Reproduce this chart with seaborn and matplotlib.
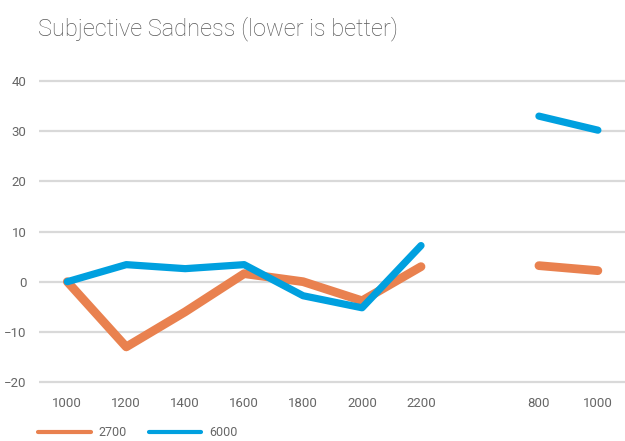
import numpy as np
import pandas as pd
import matplotlib
matplotlib.use('Agg')
import matplotlib.pyplot as plt
from matplotlib.lines import Line2D
import seaborn as sns

# values
categories = ['1000', '1200', '1400', '1600', '1800', '2000', '2200', '', '800', '1000']
s2700 = [0, -13, -6, 1.6, 0, -3.8, 3, np.nan, 3.2, 2.2]
s6000 = [0, 3.4, 2.6, 3.4, -2.8, -5.2, 7.2, np.nan, 33, 30.2]
series = {'2700': s2700, '6000': s6000}
colors = {'2700': '#E9814F', '6000': '#00A0DF'}
widths = {'2700': 6.3, '6000': 5.2}
yticks = [-20, -10, 0, 10, 20, 30, 40]

rows = []
for name, vals in series.items():
    seg = 0
    for i, v in enumerate(vals):
        if np.isnan(v):
            seg += 1
            continue
        rows.append({'pos': i, 'value': v, 'series': name, 'segment': seg})
df = pd.DataFrame(rows)

sns.set_style('white')
plt.rcParams['font.family'] = ['Roboto', 'DejaVu Sans']
grey = '#595959'

fig = plt.figure(figsize=(6.25, 4.41), dpi=100)
ax = fig.add_axes([0.0624, 0.128, 0.9376, 0.694])

for name in series:
    sns.lineplot(data=df[df['series'] == name], x='pos', y='value', units='segment',
                 estimator=None, color=colors[name], linewidth=widths[name],
                 solid_capstyle='round', solid_joinstyle='round', ax=ax, legend=False)

ax.set_xlim(-0.48, 9.46)
ax.set_ylim(-20.5, 40.5)
ax.set_xticks(range(len(categories)))
ax.set_xticklabels(categories)
ax.set_yticks(yticks)
ax.set_xlabel('')
ax.set_ylabel('')
ax.grid(axis='y', color='#D9D9D9', linewidth=1.6)
ax.set_axisbelow(True)
for sp in ax.spines.values():
    sp.set_visible(False)
ax.tick_params(axis='both', length=0, labelsize=9.5, labelcolor='#666666')
ax.tick_params(axis='x', pad=9)
ax.tick_params(axis='y', pad=9)

fig.text(0.061, 0.935, 'Subjective Sadness (lower is better)', fontsize=17,
         color=grey, fontweight='light', va='center')

handles = [Line2D([], [], color=colors[n], linewidth=3) for n in series]
fig.legend(handles, list(series.keys()), loc='center left', bbox_to_anchor=(0.061, 0.019),
           ncol=2, frameon=False, fontsize=9, labelcolor='#666666', handlelength=4.2,
           columnspacing=1.8, handletextpad=0.6, borderaxespad=0, borderpad=0)

fig.savefig('out.png', dpi=100)
